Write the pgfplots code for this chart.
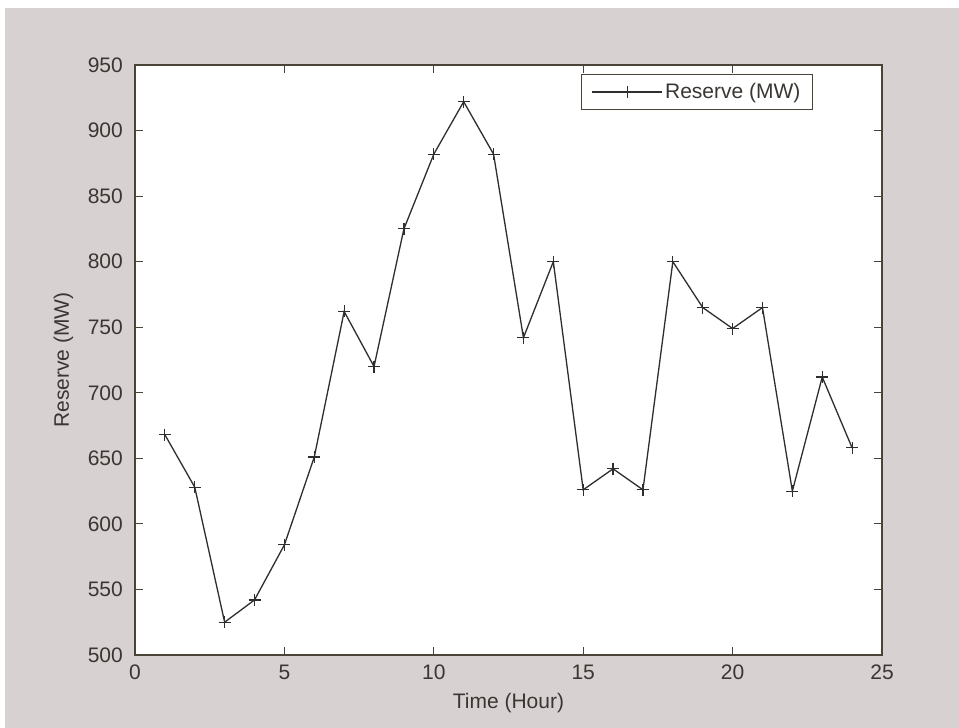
\documentclass[border=0pt]{standalone}
\usepackage{fontspec}
\setmainfont{Liberation Sans}
\usepackage{pgfplots}
\pgfplotsset{compat=1.18}
\definecolor{bg}{HTML}{D7D1D2}
\definecolor{txt}{HTML}{3A3632}
\definecolor{ax}{HTML}{4A4436}
\definecolor{ln}{HTML}{2E2E2E}
\begin{document}
\begin{tikzpicture}
\fill[bg] (-135pt,-73pt) rectangle (824pt,655pt);
\fill[white] (-135pt,647pt) rectangle (824pt,655pt);
\fill[white] (-135pt,-73pt) rectangle (-130pt,655pt);
\begin{axis}[
  scale only axis, width=747pt, height=590pt,
  at={(0pt,0pt)}, anchor=south west,
  xmin=0, xmax=25, ymin=500, ymax=950,
  xtick={0,5,10,15,20,25},
  ytick={500,550,600,650,700,750,800,850,900,950},
  tick align=inside, major tick length=8pt,
  axis line style={draw=ax, line width=1.2pt},
  every tick/.style={draw=ax, line width=1pt},
  axis background/.style={fill=white},
  font=\fontsize{21}{25}\selectfont,
  tick label style={text=txt},
  xticklabel style={anchor=north, inner sep=0pt, yshift=-10pt},
  yticklabel style={anchor=east, inner sep=0pt, xshift=-12pt},
  /pgf/number format/assume math mode=true,
  /pgf/number format/1000 sep={},
  xlabel={Time (Hour)}, ylabel={Reserve (MW)},
  label style={text=txt},
  xlabel style={at={(axis description cs:0.5,-0.0814)}, anchor=center},
  ylabel style={at={(axis description cs:-0.0957,0.5)}, anchor=center},
  legend style={at={(0.9076,0.9847)}, anchor=north east, draw=ax, line width=1pt, fill=white, inner xsep=10pt, inner ysep=7pt, font=\fontsize{21}{25}\selectfont, text=txt},
  legend image code/.code={\draw[mark repeat=2,mark phase=2] plot coordinates {(0pt,0pt) (35pt,0pt) (70pt,0pt)};},
]
\addplot[color=ln, line width=1.3pt, mark=+, mark size=6pt, mark options={line width=1.2pt}] coordinates {
(1,668) (2,628) (3,525) (4,542) (5,584) (6,651) (7,762) (8,720)
(9,825) (10,882) (11,922) (12,882) (13,742) (14,800) (15,626) (16,642)
(17,626) (18,800) (19,765) (20,749) (21,765) (22,625) (23,712) (24,658)
};
\addlegendentry{Reserve (MW)}
\end{axis}
\end{tikzpicture}
\end{document}
